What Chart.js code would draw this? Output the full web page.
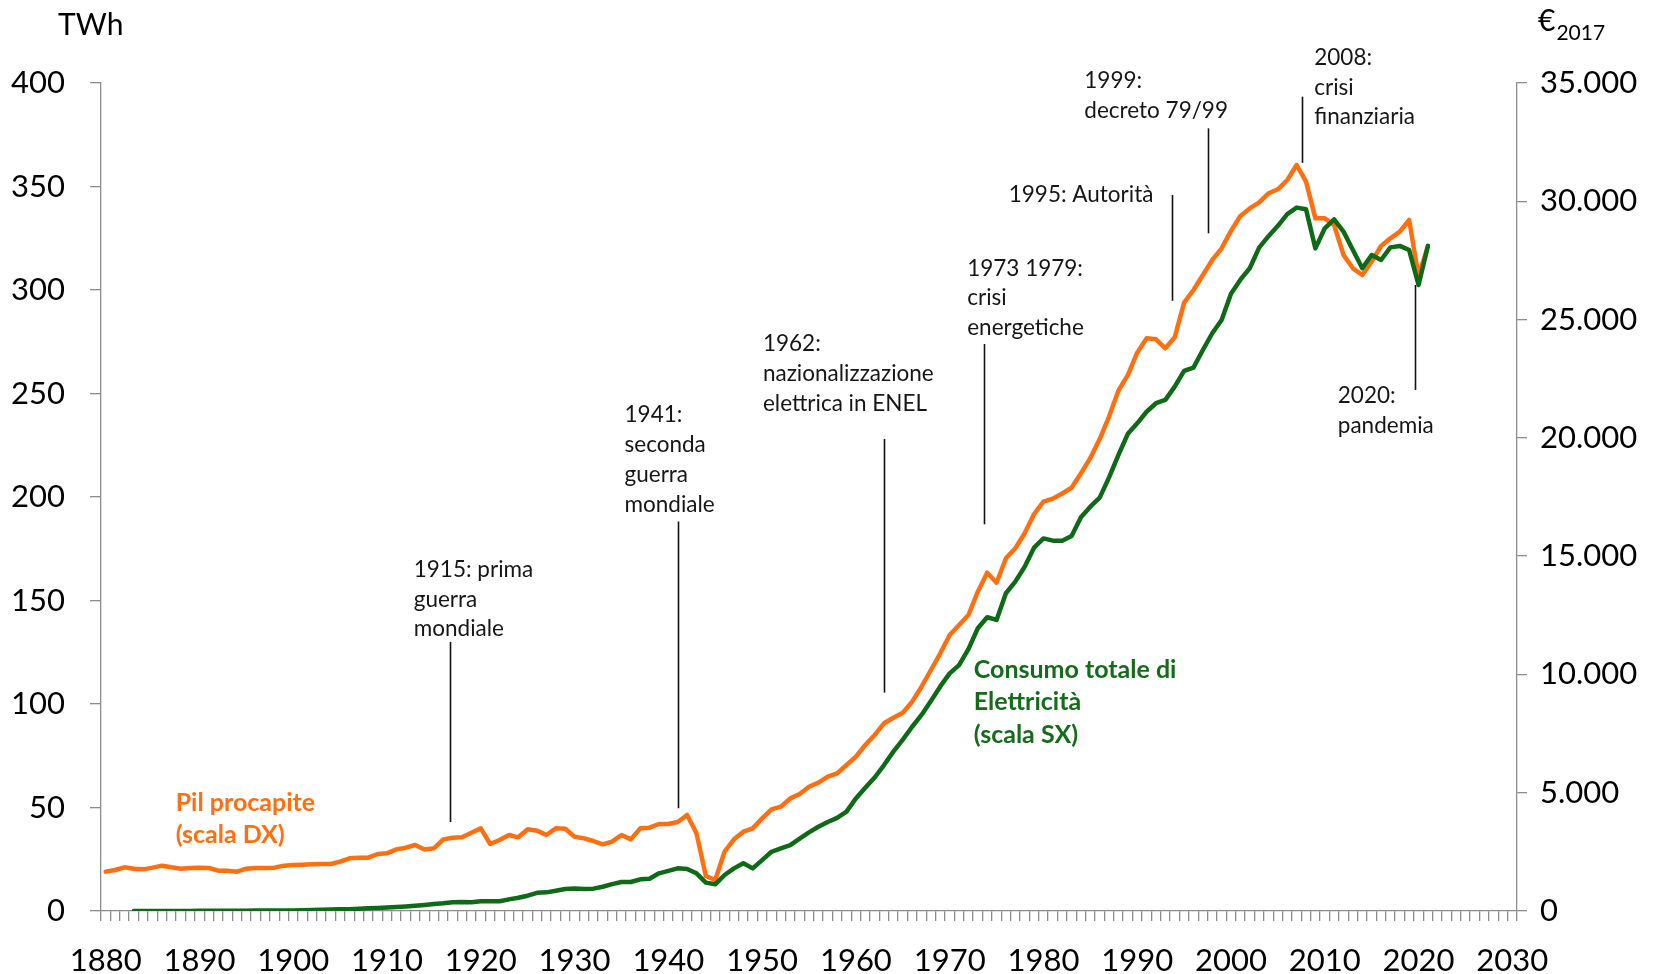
<!DOCTYPE html>
<html lang="it">
<head>
<meta charset="utf-8">
<title>Consumo di elettricità e PIL procapite in Italia, 1880-2021</title>
<script src="https://cdn.jsdelivr.net/npm/chart.js@4.4.1/dist/chart.umd.min.js"></script>
<style>
  html, body { margin: 0; padding: 0; background: #fff; }
  #wrap { width: 1669px; height: 974px; }
</style>
</head>
<body>
<div id="wrap"><canvas id="chart" width="1669" height="974"></canvas></div>
<script>
// categorie dell'asse x: un anno per categoria, etichetta ogni 10 anni
const axisYears = [];
for (let y = 1880; y <= 2030; y++) axisYears.push(String(y));

// PIL procapite, €2017 (scala DX), 1880-2021
const pilProcapite = [
    1663, 1733, 1846, 1789, 1761, 1832, 1916, 1846, 1789, 1818,
    1832, 1818, 1705, 1705, 1663, 1789, 1818, 1818, 1832, 1916,
    1944, 1958, 1972, 1987, 1987, 2085, 2226, 2254, 2254, 2409,
    2437, 2606, 2677, 2790, 2600, 2649, 3029, 3099, 3114, 3311,
    3494, 2832, 3001, 3213, 3114, 3452, 3396, 3213, 3494, 3480,
    3142, 3071, 2959, 2818, 2930, 3213, 3029, 3494, 3522, 3677,
    3677, 3762, 4058, 3283, 1480, 1310, 2508, 3029, 3353, 3494,
    3917, 4298, 4409, 4762, 4946, 5254, 5424, 5677, 5820, 6171,
    6523, 7017, 7440, 7934, 8171, 8383, 8848, 9482, 10188, 10893,
    11667, 12090, 12512, 13497, 14300, 13878, 14909, 15332, 15966, 16780,
    17300, 17430, 17650, 17890, 18500, 19150, 19950, 20900, 22000, 22650,
    23600, 24209, 24167, 23786, 24251, 25714, 26250, 26884, 27518, 28013,
    28750, 29378, 29700, 29950, 30338, 30507, 30900, 31534, 30829, 29280,
    29280, 28998, 27730, 27167, 26884, 27447, 28110, 28436, 28715, 29209,
    26813, 28110
];

// Consumo totale di elettricità, TWh (scala SX), 1880-2021
const consumoTWh = [
    null, null, null, 0, 0, 0, 0, 0, 0, 0,
    0.1, 0.1, 0.1, 0.1, 0.1, 0.1, 0.2, 0.2, 0.2, 0.3,
    0.3, 0.4, 0.5, 0.6, 0.7, 0.8, 0.9, 1.1, 1.3, 1.5,
    1.7, 1.9, 2.2, 2.5, 2.9, 3.4, 3.7, 4.2, 4.3, 4.2,
    4.7, 4.7, 4.7, 5.6, 6.4, 7.4, 8.8, 9.0, 9.8, 10.6,
    10.9, 10.6, 10.8, 11.7, 13.0, 14.0, 14.0, 15.3, 15.6, 18.2,
    19.4, 20.6, 20.3, 18.2, 13.7, 12.9, 17.4, 20.6, 23.1, 20.6,
    24.6, 28.6, 30.2, 31.8, 35.0, 38.0, 40.7, 43.0, 45.0, 48.0,
    54.4, 59.5, 64.5, 70.5, 77.0, 82.8, 89.0, 94.7, 101.5, 108.5,
    114.8, 118.8, 126.5, 136.6, 141.9, 140.6, 153.5, 159.1, 166.3, 175.5,
    180.0, 178.9, 178.9, 181.2, 190.2, 195.3, 199.7, 209.5, 220.3, 230.5,
    235.6, 241.2, 245.3, 246.9, 253.3, 260.9, 262.5, 271.0, 279.1, 285.5,
    298.2, 305.0, 310.5, 320.5, 326.0, 331.0, 336.7, 339.8, 339.0, 320.1,
    329.8, 334.1, 328.2, 319.3, 310.5, 316.9, 314.5, 320.6, 321.3, 319.3,
    302.4, 321.3
];

// eventi storici: linea verticale (anno, da/a in TWh) e testo (anno del bordo sinistro, TWh della prima riga)
const eventLines = [
    { year: 1916.7, from: 43, to: 130 },
    { year: 1941.0, from: 49.6, to: 188.2 },
    { year: 1963.0, from: 105.5, to: 228 },
    { year: 1973.7, from: 186.8, to: 273.9 },
    { year: 1993.7, from: 294.8, to: 345.9 },
    { year: 1997.5, from: 327.4, to: 378.1 },
    { year: 2007.55, from: 361.4, to: 393.4 },
    { year: 2019.6, from: 251.7, to: 302.4 }
];
const eventTexts = [
    { year: 1912.85, level: 165.0, lines: ["1915: prima", "guerra", "mondiale"] },
    { year: 1935.33, level: 239.6, lines: ["1941:", "seconda", "guerra", "mondiale"] },
    { year: 1950.09, level: 274.0, lines: ["1962:", "nazionalizzazione", "elettrica in ENEL"] },
    { year: 1971.87, level: 310.5, lines: ["1973 1979:", "crisi", "energetiche"] },
    { year: 1976.3, level: 346.0, lines: ["1995: Autorità"] },
    { year: 1984.36, level: 401.0, lines: ["1999:", "decreto 79/99"] },
    { year: 2008.88, level: 412.3, lines: ["2008:", "crisi", "finanziaria"] },
    { year: 2011.39, level: 248.8, lines: ["2020:", "pandemia"] }
];
const seriesTexts = [
    { year: 1887.46, level: 52.3, color: "#ff6f0f", lines: ["Pil procapite", "(scala DX)"] },
    { year: 1972.57, level: 116.4, color: "#146b1a", lines: ["Consumo totale di", "Elettricità", "(scala SX)"] }
];

const ORANGE = "#ff6f0f";
const GREEN = "#0e6a16";
const AXIS_GREY = "#8c8c8c";
const FONT = "Lato, 'Open Sans', sans-serif";

const fmtEuro = (v) => String(v).replace(/\B(?=(\d{3})+(?!\d))/g, ".");

const annotationsPlugin = {
    id: "eventi",
    afterDraw(chart) {
        const { ctx, chartArea } = chart;
        const xs = chart.scales.x, ys = chart.scales.y;
        const px = (year) => xs.getPixelForValue(year - 1880);

        ctx.save();
        ctx.strokeStyle = "#111";
        ctx.lineWidth = 1.6;
        eventLines.forEach((e) => {
            const x = Math.round(px(e.year)) + 0.5;
            ctx.beginPath();
            ctx.moveTo(x, ys.getPixelForValue(e.to));
            ctx.lineTo(x, ys.getPixelForValue(e.from));
            ctx.stroke();
        });

        ctx.textAlign = "left";
        ctx.textBaseline = "middle";
        ctx.fillStyle = "#161616";
        ctx.font = `22.5px ${FONT}`;
        eventTexts.forEach((t) => {
            const y0 = ys.getPixelForValue(t.level);
            t.lines.forEach((line, i) => ctx.fillText(line, px(t.year), y0 + i * 29.8));
        });

        ctx.font = `bold 25px ${FONT}`;
        seriesTexts.forEach((t) => {
            ctx.fillStyle = t.color;
            const y0 = ys.getPixelForValue(t.level);
            t.lines.forEach((line, i) => ctx.fillText(line, px(t.year), y0 + i * 32.2));
        });

        // titoli degli assi
        ctx.fillStyle = "#000";
        ctx.font = `30px ${FONT}`;
        ctx.fillText("TWh", chartArea.left - 43, 25);
        const ex = chartArea.right + 21;
        ctx.fillText("€", ex, 21);
        const ew = ctx.measureText("€").width;
        ctx.font = `21px ${FONT}`;
        ctx.fillText("2017", ex + ew + 1, 33);
        ctx.restore();
    }
};

function buildChart() {
    new Chart(document.getElementById("chart"), {
        type: "line",
        data: {
            labels: axisYears,
            datasets: [
                {
                    label: "Consumo totale di Elettricità (scala SX)",
                    data: consumoTWh,
                    yAxisID: "y",
                    borderColor: GREEN,
                    borderWidth: 4.5,
                    pointRadius: 0,
                    tension: 0,
                    borderJoinStyle: "round",
                    borderCapStyle: "round",
                    spanGaps: false
                },
                {
                    label: "Pil procapite (scala DX)",
                    data: pilProcapite,
                    yAxisID: "y1",
                    borderColor: ORANGE,
                    borderWidth: 4.5,
                    pointRadius: 0,
                    tension: 0,
                    borderJoinStyle: "round",
                    borderCapStyle: "round"
                }
            ]
        },
        options: {
            responsive: false,
            animation: false,
            devicePixelRatio: 1,
            layout: { padding: { top: 83, left: 0, right: 0, bottom: 0 } },
            plugins: { legend: { display: false }, tooltip: { enabled: false } },
            scales: {
                x: {
                    type: "category",
                    offset: true,
                    grid: { offset: true, drawOnChartArea: false, drawTicks: true, tickLength: 10, color: AXIS_GREY, lineWidth: 1.3 },
                    border: { color: AXIS_GREY, width: 1.3 },
                    ticks: {
                        autoSkip: false,
                        maxRotation: 0,
                        minRotation: 0,
                        padding: 21,
                        color: "#000",
                        font: { family: FONT, size: 31 },
                        callback(value) {
                            const label = this.getLabelForValue(value);
                            return Number(label) % 10 === 0 ? label : "";
                        }
                    },
                    afterFit(scale) { scale.height = 63; }
                },
                y: {
                    position: "left",
                    min: 0,
                    max: 400,
                    grid: { drawOnChartArea: false, drawTicks: true, tickLength: 11, color: AXIS_GREY, lineWidth: 1.3 },
                    border: { color: AXIS_GREY, width: 1.3 },
                    ticks: { stepSize: 50, padding: 25, color: "#000", font: { family: FONT, size: 31 } },
                    afterFit(scale) { scale.width = 101; }
                },
                y1: {
                    position: "right",
                    min: 0,
                    max: 35000,
                    grid: { drawOnChartArea: false, drawTicks: true, tickLength: 10, color: AXIS_GREY, lineWidth: 1.3 },
                    border: { color: AXIS_GREY, width: 1.3 },
                    ticks: { stepSize: 5000, padding: 13, color: "#000", font: { family: FONT, size: 31 }, callback: (v) => fmtEuro(v) },
                    afterFit(scale) { scale.width = 152; }
                }
            }
        },
        plugins: [annotationsPlugin]
    });
}

Promise.all([
    document.fonts.load(`30px Lato`),
    document.fonts.load(`bold 24px Lato`)
]).catch(() => {}).then(buildChart);
</script>
</body>
</html>
